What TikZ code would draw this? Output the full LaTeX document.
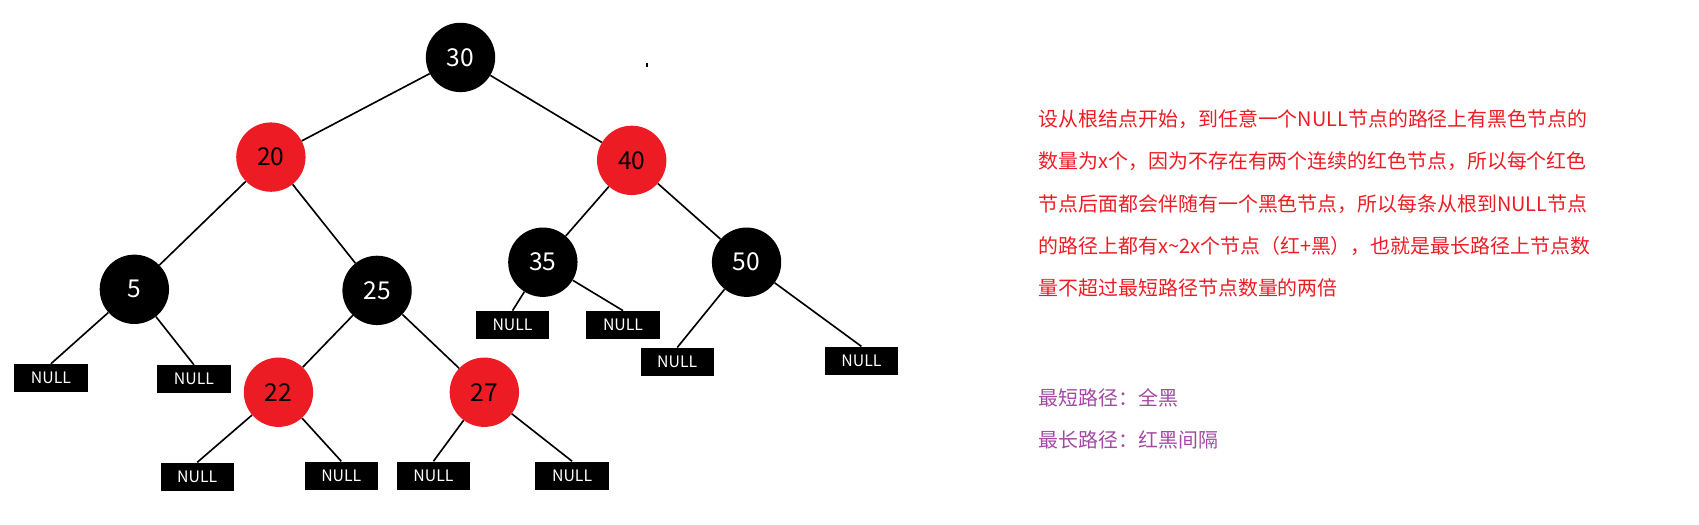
\documentclass[tikz,border=0pt]{standalone}
\usepackage{fontspec}
\setmainfont{Noto Sans CJK SC}
\usetikzlibrary{positioning}
\definecolor{rbred}{RGB}{237,28,36}
\definecolor{notepurple}{RGB}{163,73,164}
\tikzset{
    blacknode/.style={circle,fill=black,text=white,minimum size=2.08cm,inner sep=0pt,font=\fontsize{21}{21}\selectfont},
    rednode/.style={circle,fill=rbred,text=black,minimum size=2.08cm,inner sep=0pt,font=\fontsize{21}{21}\selectfont},
    leaf/.style={fill=black,text=white,minimum width=2.2cm,minimum height=0.85cm,inner sep=0pt,font=\fontsize{13.5}{13.5}\selectfont},
    bi/.style={-,line width=1.4pt},
    note/.style={anchor=west,font=\fontsize{17}{17}\selectfont}
}
\begin{document}
\begin{tikzpicture}[x=0.0325cm,y=-0.0325cm]

                \useasboundingbox (0,0) rectangle (1568,484.5);

                \node[blacknode] (n30) at (425,53)  {30};
                \node[rednode]   (n20) at (250,145) {20};
                \node[rednode]   (n40) at (583,148) {40};
                \node[blacknode] (n5)  at (124,267) {5};
                \node[blacknode] (n25) at (348,268) {25};
                \node[blacknode] (n35) at (501,242) {35};
                \node[blacknode] (n50) at (689,242) {50};
                \node[rednode]   (n22) at (257,362) {22};
                \node[rednode]   (n27) at (447,362) {27};

                \node[leaf] (l5a)  at (47,349)  {NULL};
                \node[leaf] (l5b)  at (179,350) {NULL};
                \node[leaf] (l35a) at (473,300) {NULL};
                \node[leaf] (l35b) at (575,300) {NULL};
                \node[leaf] (l50a) at (625,334) {NULL};
                \node[leaf] (l50b) at (795,333) {NULL};
                \node[leaf] (l22a) at (182,440) {NULL};
                \node[leaf] (l22b) at (315,439) {NULL};
                \node[leaf] (l27a) at (400,439) {NULL};
                \node[leaf] (l27b) at (528,439) {NULL};

                \draw[bi] (n30) -- (n20);
                \draw[bi] (n30) -- (n40);
                \draw[bi] (n20) -- (n5);
                \draw[bi] (n20) -- (n25);
                \draw[bi] (n40) -- (n35);
                \draw[bi] (n40) -- (n50);
                \draw[bi] (n25) -- (n22);
                \draw[bi] (n25) -- (n27);
                \draw[bi] (n5) -- (l5a.north);
                \draw[bi] (n5) -- (l5b.north);
                \draw[bi] (n35) -- (l35a.north);
                \draw[bi] (n35) -- (l35b.north);
                \draw[bi] (n50) -- (l50a.north);
                \draw[bi] (n50) -- (l50b.north);
                \draw[bi] (n22) -- (l22a.north);
                \draw[bi] (n22) -- (l22b.north);
                \draw[bi] (n27) -- (l27a.north);
                \draw[bi] (n27) -- (l27b.north);

                \fill (596,58) rectangle (598,62);

                % explanation
                \node[note,text=rbred] (t1) at (955,110) {设从根结点开始，到任意一个NULL节点的路径上有黑色节点的};
                \node[note,text=rbred] (t2) at (955,149) {数量为x个，因为不存在有两个连续的红色节点，所以每个红色};
                \node[note,text=rbred] (t3) at (955,188) {节点后面都会伴随有一个黑色节点，所以每条从根到NULL节点};
                \node[note,text=rbred] (t4) at (955,227) {的路径上都有x\textasciitilde 2x个节点（红+黑），也就是最长路径上节点数};
                \node[note,text=rbred] (t5) at (955,266) {量不超过最短路径节点数量的两倍};
                \node[note,text=notepurple] (s1) at (955,367) {最短路径：全黑};
                \node[note,text=notepurple] (s2) at (955,406) {最长路径：红黑间隔};

\end{tikzpicture}
\end{document}
